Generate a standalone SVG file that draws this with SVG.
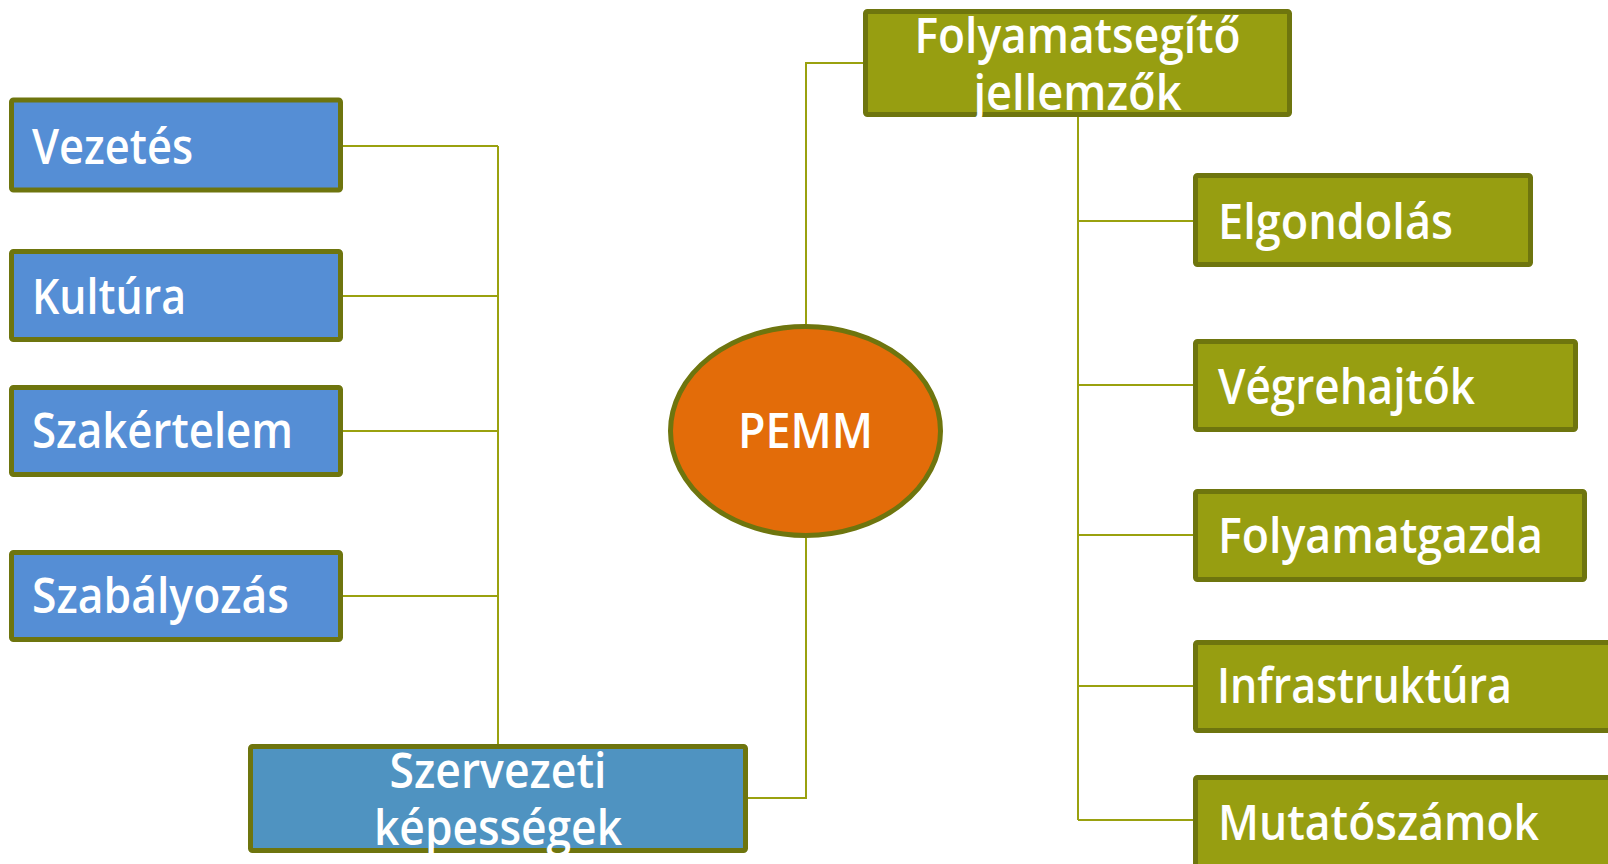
<svg xmlns="http://www.w3.org/2000/svg" width="1608" height="864" viewBox="0 0 1608 864">
<style>
.blue{fill:#558ed5;stroke:#6e750e;stroke-width:5}
.blue2{fill:#4f93c1;stroke:#6e750e;stroke-width:5}
.olive{fill:#979e11;stroke:#6e750e;stroke-width:5}
.t{font-family:"Open Sans","Noto Sans","DejaVu Sans",sans-serif;font-size:48px;font-weight:600;fill:#ffffff}
.c{text-anchor:middle}
.conn{fill:none;stroke:#9aa10f;stroke-width:2}
</style>
<rect width="1608" height="864" fill="#ffffff"/>
<g id="connectors">
<polyline class="conn" points="343,146 498,146"/>
<polyline class="conn" points="343,296 498,296"/>
<polyline class="conn" points="343,431 498,431"/>
<polyline class="conn" points="343,596 498,596"/>
<polyline class="conn" points="498,146 498,744"/>
<polyline class="conn" points="748,798 806,798 806,538"/>
<polyline class="conn" points="863,63 806,63 806,324"/>
<polyline class="conn" points="1078,117 1078,820"/>
<polyline class="conn" points="1078,221 1193,221"/>
<polyline class="conn" points="1078,385 1193,385"/>
<polyline class="conn" points="1078,535 1193,535"/>
<polyline class="conn" points="1078,686 1193,686"/>
<polyline class="conn" points="1078,820 1193,820"/>
</g>
<g id="vezetes">
<rect class="blue" x="11.5" y="100" width="329" height="90" rx="2"/>
<text class="t" x="32" y="164" textLength="161" lengthAdjust="spacingAndGlyphs">Vezetés</text>
</g>
<g id="kultura">
<rect class="blue" x="11.5" y="251.5" width="329" height="88" rx="2"/>
<text class="t" x="32" y="314" textLength="154" lengthAdjust="spacingAndGlyphs">Kultúra</text>
</g>
<g id="szakertelem">
<rect class="blue" x="11.5" y="387.5" width="329" height="87" rx="2"/>
<text class="t" x="32" y="448" textLength="261" lengthAdjust="spacingAndGlyphs">Szakértelem</text>
</g>
<g id="szabalyozas">
<rect class="blue" x="11.5" y="552.5" width="329" height="87" rx="2"/>
<text class="t" x="32" y="613" textLength="257" lengthAdjust="spacingAndGlyphs">Szabályozás</text>
</g>
<g id="szervezeti">
<rect class="blue2" x="250.5" y="746.5" width="495" height="104" rx="2"/>
<text class="t c" x="498" y="788" textLength="217" lengthAdjust="spacingAndGlyphs">Szervezeti</text>
<text class="t c" x="498" y="845" textLength="248" lengthAdjust="spacingAndGlyphs">képességek</text>
</g>
<g id="pemm">
<ellipse cx="805.5" cy="431" rx="135" ry="104.5" fill="#e36c09" stroke="#6e750e" stroke-width="5"/>
<text class="t c" x="805.5" y="448" textLength="135" lengthAdjust="spacingAndGlyphs">PEMM</text>
</g>
<g id="folyamatsegito">
<rect class="olive" x="865.5" y="11.5" width="424" height="103" rx="2"/>
<text class="t c" x="1077.5" y="53" textLength="326" lengthAdjust="spacingAndGlyphs">Folyamatsegítő</text>
<text class="t c" x="1077.5" y="110" textLength="208" lengthAdjust="spacingAndGlyphs">jellemzők</text>
</g>
<g id="elgondolas">
<rect class="olive" x="1195.5" y="175.5" width="335" height="89" rx="2"/>
<text class="t" x="1218" y="239" textLength="235" lengthAdjust="spacingAndGlyphs">Elgondolás</text>
</g>
<g id="vegrehajtok">
<rect class="olive" x="1195.5" y="341.5" width="380" height="88" rx="2"/>
<text class="t" x="1218" y="404" textLength="257" lengthAdjust="spacingAndGlyphs">Végrehajtók</text>
</g>
<g id="folyamatgazda">
<rect class="olive" x="1195.5" y="491.5" width="389" height="88" rx="2"/>
<text class="t" x="1218" y="553" textLength="325" lengthAdjust="spacingAndGlyphs">Folyamatgazda</text>
</g>
<g id="infrastruktura">
<rect class="olive" x="1195.5" y="642.5" width="430" height="88" rx="2"/>
<text class="t" x="1217" y="703" textLength="295" lengthAdjust="spacingAndGlyphs">Infrastruktúra</text>
</g>
<g id="mutatoszamok">
<rect class="olive" x="1195.5" y="777.5" width="430" height="100" rx="2"/>
<text class="t" x="1218" y="840" textLength="321" lengthAdjust="spacingAndGlyphs">Mutatószámok</text>
</g>
</svg>
